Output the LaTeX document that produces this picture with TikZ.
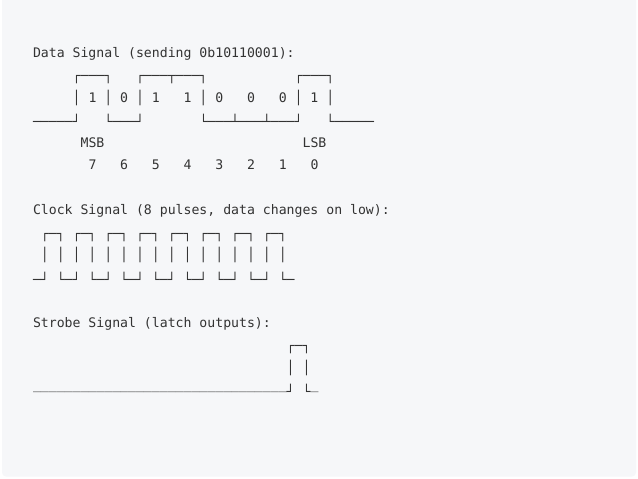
\documentclass[tikz,border=0pt]{standalone}
\usepackage{fontspec}
\newfontfamily\monofont{DejaVu Sans Mono}
\definecolor{ink}{HTML}{333333}
\definecolor{panel}{HTML}{F6F7F9}
\newlength\cw
\setlength\cw{7.929pt}
\newcommand\Sp[1]{\hspace*{#1\cw}}
\tikzset{
  line/.style={anchor=base west, inner sep=0pt, outer sep=0pt, text=ink,
    font=\monofont\fontsize{13.17pt}{22.5pt}\selectfont},
}
\begin{document}
\begin{tikzpicture}[x=1pt,y=-1pt]
\useasboundingbox (0,0) rectangle (638,479);
\fill[white] (0,0) rectangle (638,479);
\fill[panel, rounded corners=4pt] (2,-10) rectangle (636,476.5);
% Data signal
\node[line] (dtitle) at (33,57.3) {Data Signal (sending 0b10110001):};
\node[line] (dtop) at (33,80.8) {\Sp{5}┌───┐\Sp{3}┌───┬───┐\Sp{11}┌───┐};
\node[line] (dmid) at (33,102.3) {\Sp{5}│\Sp{1}1\Sp{1}│\Sp{1}0\Sp{1}│\Sp{1}1\Sp{3}1\Sp{1}│\Sp{1}0\Sp{3}0\Sp{3}0\Sp{1}│\Sp{1}1\Sp{1}│};
\node[line] (dbot) at (33,126.6) {─────┘\Sp{3}└───┘\Sp{7}└───┴───┴───┘\Sp{3}└─────};
\node[line] (dmsb) at (33,147.3) {\Sp{6}MSB\Sp{25}LSB};
\node[line] (dnum) at (33,169.8) {\Sp{7}7\Sp{3}6\Sp{3}5\Sp{3}4\Sp{3}3\Sp{3}2\Sp{3}1\Sp{3}0};
% Clock signal
\node[line] (ctitle) at (33,214.8) {Clock Signal (8 pulses, data changes on low):};
\node[line] (ctop) at (33,238.3) {\Sp{1}┌─┐\Sp{1}┌─┐\Sp{1}┌─┐\Sp{1}┌─┐\Sp{1}┌─┐\Sp{1}┌─┐\Sp{1}┌─┐\Sp{1}┌─┐};
\node[line] (cmid) at (33,259.8) {\Sp{1}│\Sp{1}│\Sp{1}│\Sp{1}│\Sp{1}│\Sp{1}│\Sp{1}│\Sp{1}│\Sp{1}│\Sp{1}│\Sp{1}│\Sp{1}│\Sp{1}│\Sp{1}│\Sp{1}│\Sp{1}│};
\node[line] (cbot) at (33,284.1) {─┘\Sp{1}└─┘\Sp{1}└─┘\Sp{1}└─┘\Sp{1}└─┘\Sp{1}└─┘\Sp{1}└─┘\Sp{1}└─┘\Sp{1}└─};
% Strobe signal
\node[line] (stitle) at (33,327.3) {Strobe Signal (latch outputs):};
\node[line] (stop) at (33,350.8) {\Sp{32}┌─┐};
\node[line] (smid) at (33,372.3) {\Sp{32}│\Sp{1}│};
\node[line] (sbot) at (33,396.6) {\raisebox{7.4pt}{\_\_\_\_\_\_\_\_\_\_\_\_\_\_\_\_\_\_\_\_\_\_\_\_\_\_\_\_\_\_\_\_}┘\Sp{1}└\raisebox{7.4pt}{\_}};
\end{tikzpicture}
\end{document}
